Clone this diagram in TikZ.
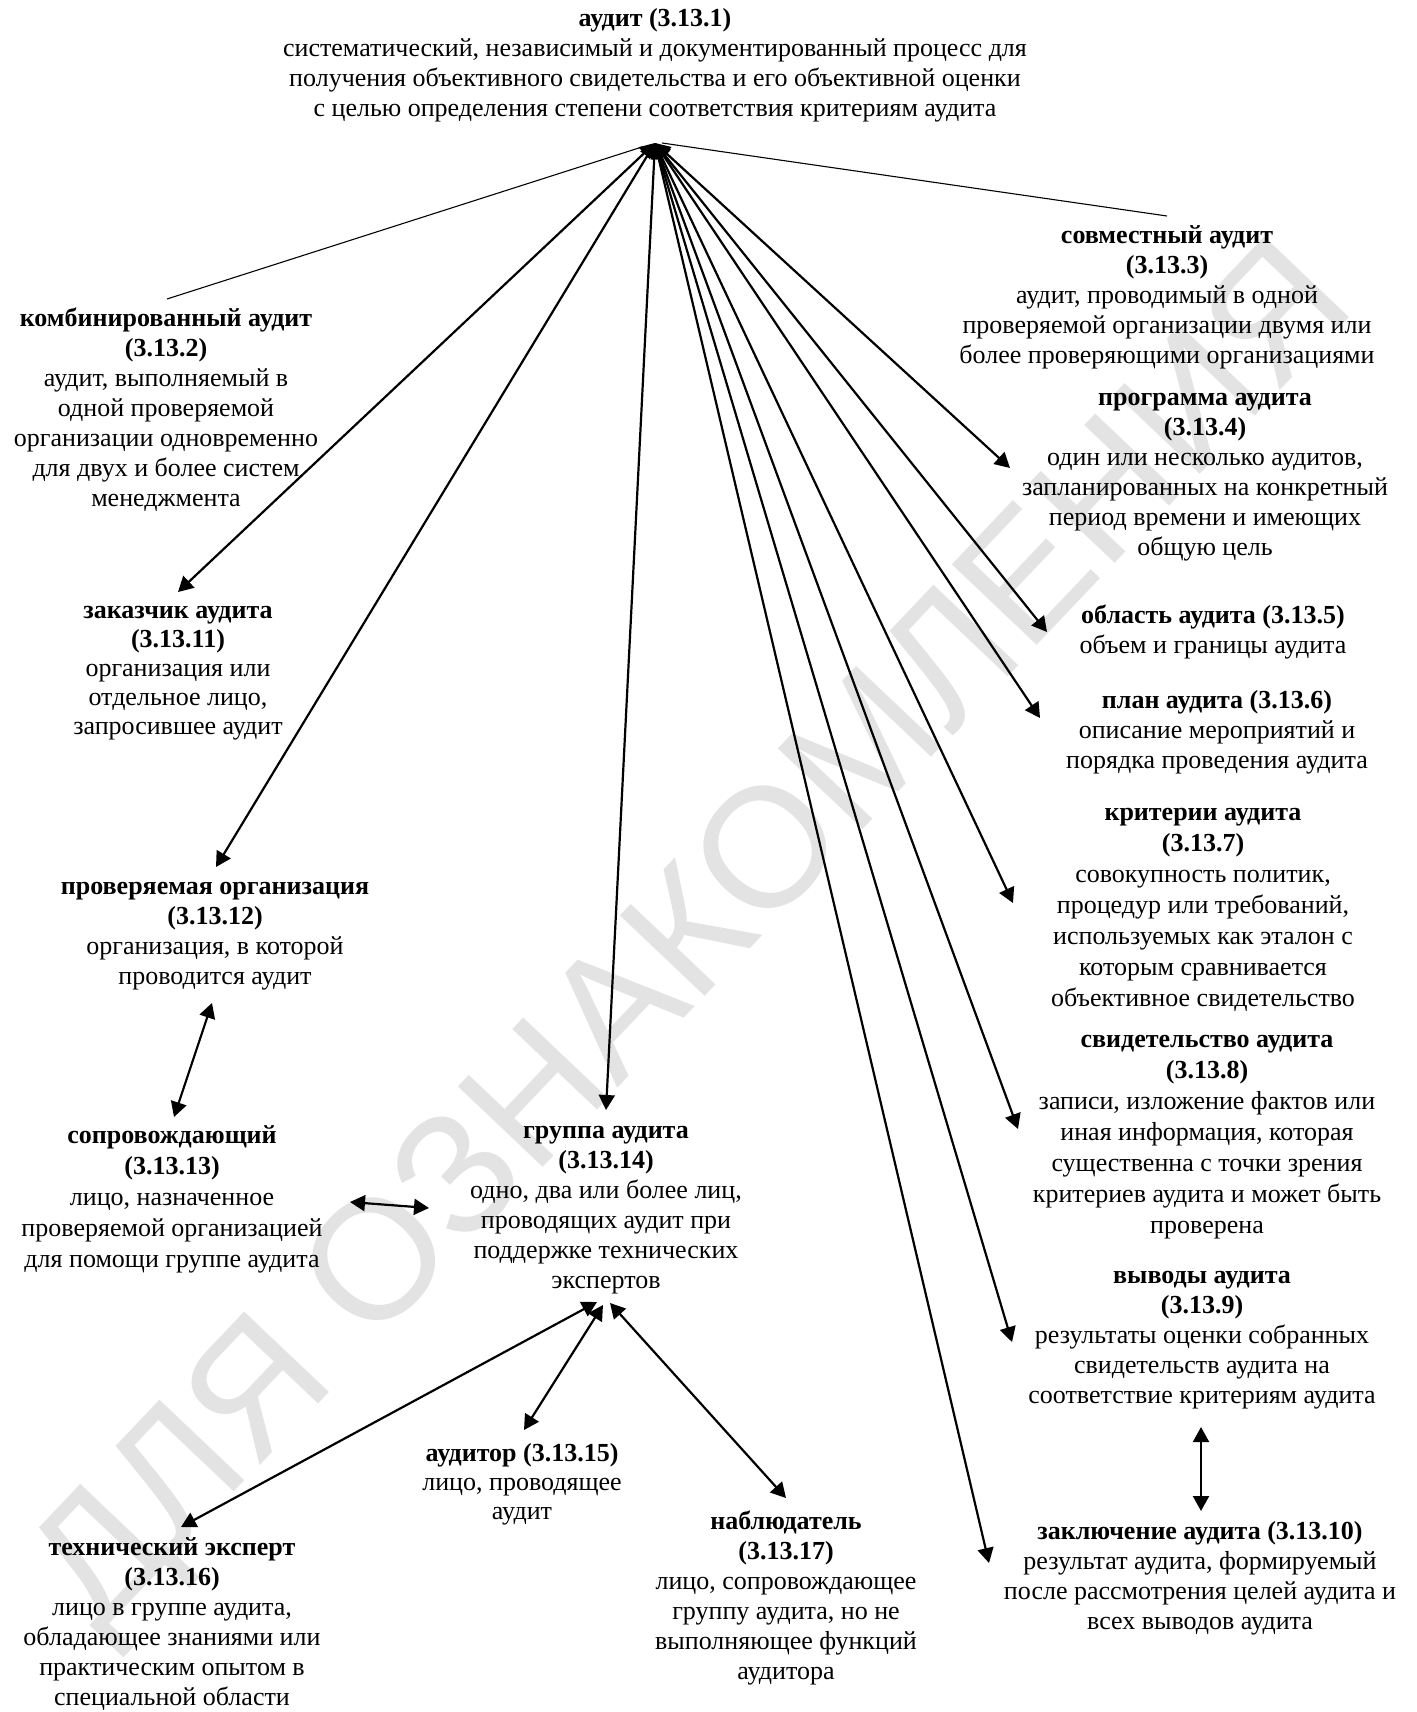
\documentclass[tikz,border=0pt]{standalone}
\usepackage{fontspec}
\setmainfont{Liberation Serif}
\newfontfamily\wmfont{Liberation Sans}
\usetikzlibrary{arrows.meta}
\begin{document}
\begin{tikzpicture}[x=0.5pt,y=-0.5pt,
  txt/.style={align=center, inner sep=0pt, anchor=north, font=\fontsize{13}{15}\selectfont},
  tipA/.tip={Triangle[length=7.5pt,width=8pt]},
  dbl/.style={tipA-tipA, line width=1.1pt},
  plainline/.style={line width=0.55pt}]
\fill[white] (0,0) rectangle (1417,1712);
\useasboundingbox (0,0) rectangle (1417,1712);

% watermark
\node[rotate=46.5, text=black!11, font=\wmfont\fontsize{85}{85}\selectfont] (wm) at (698,942) {ДЛЯ ОЗНАКОМЛЕНИЯ};

% text blocks
\node[txt] (top) at (655,5) {\strut\textbf{аудит (3.13.1)}\\систематический, независимый и документированный процесс для\\получения объективного свидетельства и его объективной оценки\\с целью определения степени соответствия критериям аудита};
\node[txt] (comb) at (166,305) {\strut\textbf{комбинированный аудит}\\\textbf{(3.13.2)}\\аудит, выполняемый в\\одной проверяемой\\организации одновременно\\для двух и более систем\\менеджмента};
\node[txt] (sovm) at (1167,222) {\strut\textbf{совместный аудит}\\\textbf{(3.13.3)}\\аудит, проводимый в одной\\проверяемой организации двумя или\\более проверяющими организациями};
\node[txt] (progr) at (1205,384) {\strut\textbf{программа аудита}\\\textbf{(3.13.4)}\\один или несколько аудитов,\\запланированных на конкретный\\период времени и имеющих\\общую цель};
\node[txt] (obl) at (1213,602) {\strut\textbf{область аудита (3.13.5)}\\объем и границы аудита};
\node[txt] (plan) at (1217,687) {\strut\textbf{план аудита (3.13.6)}\\описание мероприятий и\\порядка проведения аудита};
\node[txt, font=\fontsize{13}{15.5}\selectfont] (krit) at (1203,798) {\strut\textbf{критерии аудита}\\\textbf{(3.13.7)}\\совокупность политик,\\процедур или требований,\\используемых как эталон с\\которым сравнивается\\объективное свидетельство};
\node[txt, font=\fontsize{13}{15.5}\selectfont] (svid) at (1207,1025) {\strut\textbf{свидетельство аудита}\\\textbf{(3.13.8)}\\записи, изложение фактов или\\иная информация, которая\\существенна с точки зрения\\критериев аудита и может быть\\проверена};
\node[txt] (vyv) at (1202,1262) {\strut\textbf{выводы аудита}\\\textbf{(3.13.9)}\\результаты оценки собранных\\свидетельств аудита на\\соответствие критериям аудита};
\node[txt] (zakl) at (1200,1518) {\strut\textbf{заключение аудита (3.13.10)}\\результат аудита, формируемый\\после рассмотрения целей аудита и\\всех выводов аудита};
\node[txt, font=\fontsize{13}{14.5}\selectfont] (zakaz) at (178,598) {\strut\textbf{заказчик аудита}\\\textbf{(3.13.11)}\\организация или\\отдельное лицо,\\запросившее аудит};
\node[txt] (prov) at (215,873) {\strut\textbf{проверяемая организация}\\\textbf{(3.13.12)}\\организация, в которой\\проводится аудит};
\node[txt, font=\fontsize{13}{15.5}\selectfont] (sopr) at (172,1121) {\strut\textbf{сопровождающий}\\\textbf{(3.13.13)}\\лицо, назначенное\\проверяемой организацией\\для помощи группе аудита};
\node[txt] (grup) at (606,1117) {\strut\textbf{группа аудита}\\\textbf{(3.13.14)}\\одно, два или более лиц,\\проводящих аудит при\\поддержке технических\\экспертов};
\node[txt, font=\fontsize{13}{14.5}\selectfont] (auditor) at (522,1441) {\strut\textbf{аудитор (3.13.15)}\\лицо, проводящее\\аудит};
\node[txt] (nabl) at (786,1508) {\strut\textbf{наблюдатель}\\\textbf{(3.13.17)}\\лицо, сопровождающее\\группу аудита, но не\\выполняющее функций\\аудитора};
\node[txt] (tech) at (172,1534) {\strut\textbf{технический эксперт}\\\textbf{(3.13.16)}\\лицо в группе аудита,\\обладающее знаниями или\\практическим опытом в\\специальной области};

% connector end points
\coordinate (hub) at (655,143);
\coordinate (hubL) at (642,147);
\coordinate (hubR) at (662,143);
\coordinate (combE) at (167,299);
\coordinate (sovmE) at (1167,216);
\coordinate (zakazE) at (178,592);
\coordinate (provE) at (216,867);
\coordinate (grupE) at (606,1110);
\coordinate (progrE) at (1010,468);
\coordinate (oblE) at (1047,632);
\coordinate (planE) at (1040,718);
\coordinate (kritE) at (1013,903);
\coordinate (svidE) at (1018,1129);
\coordinate (vyvE) at (1012,1342);
\coordinate (zaklE) at (989,1563);
\coordinate (provB) at (212,1003);
\coordinate (soprT) at (174,1117);
\coordinate (soprR) at (350,1202);
\coordinate (grupL) at (429,1208);
\coordinate (vyvB) at (1201,1427);
\coordinate (zaklT) at (1201,1511);
\coordinate (gb1) at (597,1302);
\coordinate (gb2) at (603,1305);
\coordinate (gb3) at (610,1303);
\coordinate (techE) at (181,1527);
\coordinate (audE) at (524,1430);
\coordinate (nablE) at (786,1498);

% connectors
\draw[plainline] (hubL) -- (combE);
\draw[plainline] (hubR) -- (sovmE);
\draw[dbl] (hub) -- (zakazE);
\draw[dbl] (hub) -- (provE);
\draw[dbl] (hub) -- (grupE);
\draw[dbl] (hub) -- (progrE);
\draw[dbl] (hub) -- (oblE);
\draw[dbl] (hub) -- (planE);
\draw[dbl] (hub) -- (kritE);
\draw[dbl] (hub) -- (svidE);
\draw[dbl] (hub) -- (vyvE);
\draw[dbl] (hub) -- (zaklE);
\draw[dbl] (provB) -- (soprT);
\draw[dbl] (soprR) -- (grupL);
\draw[dbl] (vyvB) -- (zaklT);
\draw[dbl] (gb1) -- (techE);
\draw[dbl] (gb2) -- (audE);
\draw[dbl] (gb3) -- (nablE);
\end{tikzpicture}
\end{document}
